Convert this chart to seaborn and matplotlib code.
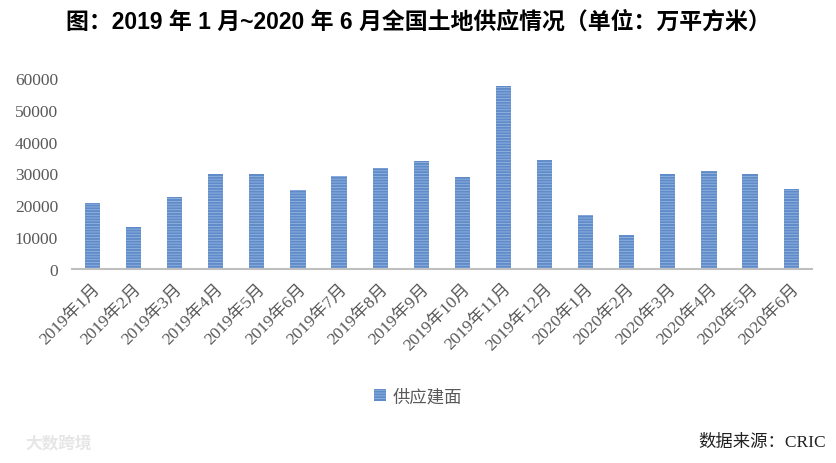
import matplotlib
matplotlib.use("Agg")
import matplotlib.pyplot as plt
import seaborn as sns
import pandas as pd
import numpy as np

months = ["2019年1月", "2019年2月", "2019年3月", "2019年4月", "2019年5月", "2019年6月",
          "2019年7月", "2019年8月", "2019年9月", "2019年10月", "2019年11月", "2019年12月",
          "2020年1月", "2020年2月", "2020年3月", "2020年4月", "2020年5月", "2020年6月"]
supply = [20800, 13300, 22600, 29700, 29700, 24800,
          29300, 31800, 34000, 28900, 57500, 34300,
          17000, 10700, 29900, 30900, 29700, 25200]
series_name = "供应建面"
yticks = [0, 10000, 20000, 30000, 40000, 50000, 60000]

sns.set_theme(style="white")
SERIF = ["Liberation Serif", "Noto Sans CJK SC"]
plt.rcParams['font.family'] = SERIF
plt.rcParams['hatch.linewidth'] = 0.6

df = pd.DataFrame({"month": months, "value": supply, "series": series_name})

fig = plt.figure(figsize=(8.36, 4.64), dpi=100)
ax = fig.add_axes([0.086, 0.418, 0.885, 0.412])

FACE = "#5f8bc9"
HATCH_C = "#94b4e0"
HATCH = "------"
sns.barplot(data=df, x="month", y="value", hue="series", ax=ax,
            palette=[FACE], width=0.37, saturation=1, legend=True)
for p in ax.patches:
    p.set_hatch(HATCH)
    p.set_edgecolor(HATCH_C)
    p.set_linewidth(0)

ax.set_ylim(0, 60000)
ax.set_xlim(-0.5, len(months) - 0.5)
ax.set_yticks(yticks)
ax.set_yticklabels([str(v) for v in yticks], fontsize=12.5, color="#595959", family=SERIF)
ax.set_xticks(range(len(months)))
ax.set_xticklabels(months, rotation=45, ha="right", rotation_mode="anchor",
                   fontsize=12.5, color="#595959", family=SERIF)
ax.tick_params(axis="x", length=0, pad=8)
ax.tick_params(axis="y", length=0, pad=10)
ax.set_xticks(np.arange(-0.5, len(months), 1), minor=True)
ax.tick_params(axis="x", which="minor", length=6, color="#bfbfbf", width=1.5)
ax.set_xlabel("")
ax.set_ylabel("")
for s in ["top", "right", "left"]:
    ax.spines[s].set_visible(False)
ax.spines["bottom"].set_color("#bfbfbf")
ax.spines["bottom"].set_linewidth(1.5)

leg = ax.legend(loc="center", frameon=False,
                prop={"family": SERIF, "size": 12.5},
                handlelength=0.7, handleheight=0.7, handletextpad=0.4)
leg.set_bbox_to_anchor((0.5, 1 - 398 / 464), transform=fig.transFigure)
for t in leg.get_texts():
    t.set_color("#595959")
for h in leg.legend_handles:
    h.set_hatch(HATCH)
    h.set_edgecolor(HATCH_C)
    h.set_linewidth(0)

fig.text(0.5, 1 - 22 / 464, "图：2019 年 1 月~2020 年 6 月全国土地供应情况（单位：万平方米）",
         ha="center", va="center", fontsize=16.5, fontweight="bold",
         family=["Liberation Sans", "Noto Sans CJK SC"], color="#000000")
fig.text(0.988, 1 - 443 / 464, "数据来源：CRIC", ha="right", va="center",
         fontsize=12.5, family=SERIF, color="#222222")
fig.text(0.03, 1 - 443 / 464, "大数跨境", ha="left", va="center",
         fontsize=12, family=["Noto Sans CJK SC"], color="#e6e6e6", fontweight="bold")

fig.savefig("out.png", dpi=100)
